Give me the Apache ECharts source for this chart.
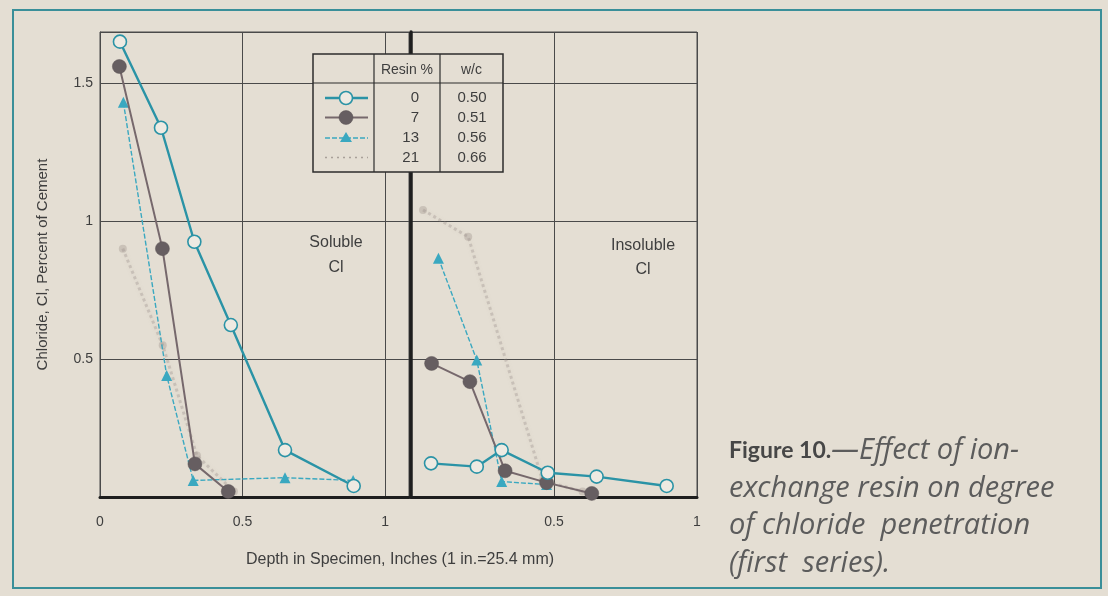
<!DOCTYPE html>
<html>
<head>
<meta charset="utf-8">
<script src="https://cdn.jsdelivr.net/npm/echarts@6/dist/echarts.min.js"></script>
<style>
  html, body { margin: 0; padding: 0; background: #e4ded3; }
  #chart { width: 1108px; height: 596px; }
</style>
</head>
<body>
<div id="chart"></div>
<script>
// Chloride content (percent of cement) against depth (inches)
const resinLevels = ['0', '7', '13', '21'];
const wcRatios = ['0.50', '0.51', '0.56', '0.66'];

const yTickLabels = [0.5, 1, 1.5];
const solubleXTickLabels = [0, 0.5, 1];
const insolubleXTickLabels = [0.5, 1];

// Soluble chloride
const soluble0Depth = [0.07, 0.214, 0.331, 0.459, 0.649, 0.89];
const soluble0Cl = [1.65, 1.338, 0.925, 0.623, 0.17, 0.04];
const soluble7Depth = [0.068, 0.219, 0.333, 0.45];
const soluble7Cl = [1.56, 0.90, 0.12, 0.02];
const soluble13Depth = [0.082, 0.234, 0.327, 0.649, 0.888];
const soluble13Cl = [1.43, 0.44, 0.06, 0.07, 0.06];
const soluble21Depth = [0.08, 0.22, 0.34, 0.47];
const soluble21Cl = [0.9, 0.55, 0.15, 0.02];

// Insoluble chloride
const insoluble0Depth = [0.07, 0.23, 0.317, 0.478, 0.649, 0.894];
const insoluble0Cl = [0.122, 0.11, 0.17, 0.088, 0.074, 0.04];
const insoluble7Depth = [0.072, 0.206, 0.329, 0.474, 0.632];
const insoluble7Cl = [0.484, 0.418, 0.095, 0.052, 0.013];
const insoluble13Depth = [0.096, 0.23, 0.317, 0.474];
const insoluble13Cl = [0.865, 0.496, 0.056, 0.045];
const insoluble21Depth = [0.042, 0.2, 0.46, 0.6];
const insoluble21Cl = [1.04, 0.943, 0.06, 0.02];

const zip = (xs, ys) => xs.map((x, i) => [x, ys[i]]);

const BG = '#e4ded3';
const INK = '#3e3e3e';
const GRID = '#4a4a4a';
const TEAL = '#2a93a6';
const GRAY = '#665e61';
const CYAN = '#3aa8c0';
const FAINT = 'rgba(150,138,132,0.32)';
const FONT = '"Liberation Sans", Arial, sans-serif';

const styles = [
  { line: { color: TEAL, width: 2.4 }, symbol: 'circle', size: 13,
    item: { color: '#eeeae2', borderColor: TEAL, borderWidth: 1.6 } },
  { line: { color: '#76686c', width: 2 }, symbol: 'circle', size: 14,
    item: { color: GRAY, borderColor: '#5a5255', borderWidth: 0.5 } },
  { line: { color: CYAN, width: 1.4, type: [5, 2] }, symbol: 'triangle', size: 11,
    item: { color: CYAN } },
  { line: { color: FAINT, width: 3, type: 'dotted', shadowBlur: 4, shadowColor: 'rgba(150,138,132,0.3)' },
    symbol: 'circle', size: 8, item: { color: FAINT } }
];

function makeSeries(data, idx, axis) {
  const s = styles[idx];
  return {
    type: 'line',
    name: resinLevels[idx] + '%',
    xAxisIndex: axis, yAxisIndex: axis,
    data: data,
    symbol: s.symbol,
    symbolSize: s.size,
    lineStyle: s.line,
    itemStyle: s.item,
    z: 10 - idx,
    silent: true,
    animation: false
  };
}

const tickFmt = list => v => (list.some(t => Math.abs(t - v) < 1e-9) ? String(v) : '');

const xAxisBase = {
  type: 'value', min: 0, interval: 0.5,
  axisTick: { show: false },
  axisLine: { show: true, onZero: false, lineStyle: { color: '#1e1e1e', width: 3 } },
  splitLine: { show: true, lineStyle: { color: GRID, width: 1 } },
  axisLabel: { color: INK, fontFamily: FONT, fontSize: 14, margin: 18 }
};
const yAxisBase = {
  type: 'value', min: 0, max: 1.685, interval: 0.5,
  axisTick: { show: false },
  splitLine: { show: true, lineStyle: { color: GRID, width: 1 } }
};

// Legend table (drawn inside the soluble panel)
const tbl = { x: 313, y: 54, w: 190, h: 118, headBottom: 83, col1: 374, col2: 440 };
const rowY = [98, 117.5, 138, 157.5];
const legendGraphics = [
  { type: 'rect', shape: { x: tbl.x, y: tbl.y, width: tbl.w, height: tbl.h },
    style: { fill: BG, stroke: '#2c2c2c', lineWidth: 1.5 }, z: 100 },
  { type: 'line', shape: { x1: tbl.x, y1: tbl.headBottom, x2: tbl.x + tbl.w, y2: tbl.headBottom },
    style: { stroke: '#2c2c2c', lineWidth: 1.2 }, z: 101 },
  { type: 'line', shape: { x1: tbl.col1, y1: tbl.y, x2: tbl.col1, y2: tbl.y + tbl.h },
    style: { stroke: '#2c2c2c', lineWidth: 1.2 }, z: 101 },
  { type: 'line', shape: { x1: tbl.col2, y1: tbl.y, x2: tbl.col2, y2: tbl.y + tbl.h },
    style: { stroke: '#2c2c2c', lineWidth: 1.2 }, z: 101 },
  { type: 'text', x: (tbl.col1 + tbl.col2) / 2, y: 70,
    style: { text: 'Resin %', fill: INK, font: '14px ' + FONT, align: 'center', verticalAlign: 'middle' }, z: 102 },
  { type: 'text', x: (tbl.col2 + tbl.x + tbl.w) / 2, y: 70,
    style: { text: 'w/c', fill: INK, font: '14px ' + FONT, align: 'center', verticalAlign: 'middle' }, z: 102 }
];
resinLevels.forEach((r, i) => {
  const y = rowY[i];
  const s = styles[i];
  legendGraphics.push({ type: 'text', x: 419, y: y,
    style: { text: r, fill: INK, font: '15px ' + FONT, align: 'right', verticalAlign: 'middle' }, z: 102 });
  legendGraphics.push({ type: 'text', x: 472, y: y,
    style: { text: wcRatios[i], fill: INK, font: '15px ' + FONT, align: 'center', verticalAlign: 'middle' }, z: 102 });
  const dash = s.line.type === 'dotted' ? [2, 4] : (Array.isArray(s.line.type) ? s.line.type : null);
  legendGraphics.push({ type: 'line', shape: { x1: 325, y1: y, x2: 368, y2: y },
    style: { stroke: i === 3 ? 'rgba(120,110,105,0.55)' : s.line.color, lineWidth: i === 3 ? 1.5 : s.line.width, lineDash: dash }, z: 102 });
  if (i === 0 || i === 1) {
    legendGraphics.push({ type: 'circle', shape: { cx: 346, cy: y, r: i === 0 ? 6.5 : 7 },
      style: { fill: s.item.color, stroke: s.item.borderColor, lineWidth: s.item.borderWidth }, z: 103 });
  } else if (i === 2) {
    legendGraphics.push({ type: 'polygon', shape: { points: [[346, y - 6], [352, y + 4], [340, y + 4]] },
      style: { fill: CYAN }, z: 103 });
  }
});

const captionX = 729;
const captionRich = {
  b: { fontFamily: 'Lato, "Open Sans", sans-serif', fontWeight: 'bold', fontSize: 23, fill: '#474747' },
  i: { fontFamily: '"Open Sans", Lato, sans-serif', fontStyle: 'italic', fontWeight: 'normal', fontSize: 29, fill: '#5c5c5c' }
};
const captionLines = [
  '{b|Figure 10.}{i|\u2014Effect of ion-}',
  '{i|exchange resin on degree}',
  '{i|of chloride  penetration}',
  '{i|(first  series).}'
];
const captionY = [451, 489, 526, 564];
const captionGraphics = captionLines.map((t, i) => ({
  type: 'text', x: captionX, y: captionY[i],
  style: { text: t, rich: captionRich, verticalAlign: 'middle', align: 'left' }
}));

const chart = echarts.init(document.getElementById('chart'), null, { renderer: 'canvas' });
chart.setOption({
  backgroundColor: BG,
  animation: false,
  grid: [
    { left: 100, top: 32, width: 309, height: 465, show: true, borderColor: GRID, borderWidth: 1, backgroundColor: 'transparent' },
    { left: 411, top: 32, width: 286, height: 465, show: true, borderColor: GRID, borderWidth: 1, backgroundColor: 'transparent' }
  ],
  xAxis: [
    Object.assign({}, xAxisBase, { gridIndex: 0, max: 1.084,
      axisLabel: Object.assign({}, xAxisBase.axisLabel, { formatter: tickFmt(solubleXTickLabels), showMaxLabel: false }) }),
    Object.assign({}, xAxisBase, { gridIndex: 1, max: 1,
      axisLabel: Object.assign({}, xAxisBase.axisLabel, { formatter: tickFmt(insolubleXTickLabels) }) })
  ],
  yAxis: [
    Object.assign({}, yAxisBase, { gridIndex: 0,
      axisLine: { show: true, lineStyle: { color: GRID, width: 1 } },
      axisLabel: { color: INK, fontFamily: FONT, fontSize: 14, margin: 7, formatter: tickFmt(yTickLabels), showMaxLabel: false },
      name: 'Chloride, Cl, Percent of Cement', nameLocation: 'middle', nameGap: 50, nameRotate: 90,
      nameTextStyle: { color: INK, fontFamily: FONT, fontSize: 15 } }),
    Object.assign({}, yAxisBase, { gridIndex: 1,
      axisLine: { show: true, lineStyle: { color: '#1e1e1e', width: 3.5 } },
      axisLabel: { show: false } })
  ],
  series: [
    makeSeries(zip(soluble21Depth, soluble21Cl), 3, 0),
    makeSeries(zip(soluble13Depth, soluble13Cl), 2, 0),
    makeSeries(zip(soluble7Depth, soluble7Cl), 1, 0),
    makeSeries(zip(soluble0Depth, soluble0Cl), 0, 0),
    makeSeries(zip(insoluble21Depth, insoluble21Cl), 3, 1),
    makeSeries(zip(insoluble13Depth, insoluble13Cl), 2, 1),
    makeSeries(zip(insoluble7Depth, insoluble7Cl), 1, 1),
    makeSeries(zip(insoluble0Depth, insoluble0Cl), 0, 1)
  ],
  graphic: [
    // outer frame
    { type: 'rect', shape: { x: 13, y: 10, width: 1088, height: 578 },
      style: { fill: null, stroke: '#3a8f99', lineWidth: 2 } },
    // panel labels
    { type: 'text', x: 336, y: 243, style: { text: 'Soluble', fill: INK, font: '16px ' + FONT, align: 'center', verticalAlign: 'middle' } },
    { type: 'text', x: 336, y: 268, style: { text: 'Cl', fill: INK, font: '16px ' + FONT, align: 'center', verticalAlign: 'middle' } },
    { type: 'text', x: 643, y: 246, style: { text: 'Insoluble', fill: INK, font: '16px ' + FONT, align: 'center', verticalAlign: 'middle' } },
    { type: 'text', x: 643, y: 270, style: { text: 'Cl', fill: INK, font: '16px ' + FONT, align: 'center', verticalAlign: 'middle' } },
    // shared depth axis title
    { type: 'text', x: 400, y: 560, style: { text: 'Depth in Specimen, Inches (1 in.=25.4 mm)', fill: INK, font: '16px ' + FONT, align: 'center', verticalAlign: 'middle' } }
  ].concat(legendGraphics, captionGraphics)
});
</script>
</body>
</html>
